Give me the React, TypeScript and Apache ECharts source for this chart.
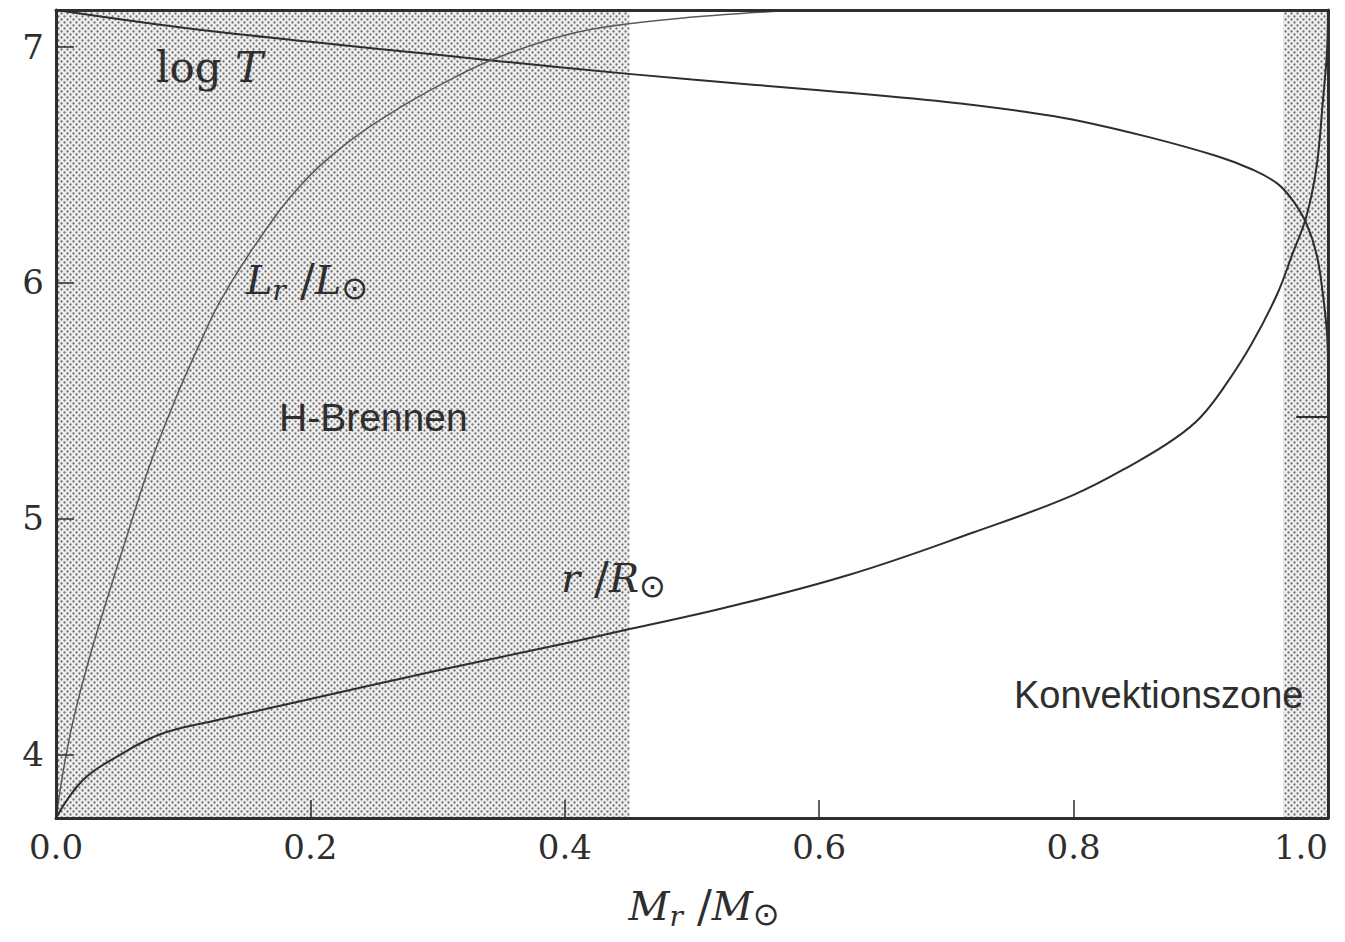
import { useEffect, useRef } from "react";
import * as echarts from "echarts";

// ---- data ----
const massLogT = [0, 0.1, 0.2, 0.3, 0.4, 0.5, 0.6, 0.7, 0.76, 0.8, 0.86, 0.913, 0.94, 0.96, 0.972, 0.983, 0.991, 0.996, 0.999, 1.0];
const logT = [7.155, 7.08, 7.02, 6.965, 6.91, 6.86, 6.815, 6.765, 6.725, 6.69, 6.615, 6.535, 6.48, 6.42, 6.35, 6.25, 6.12, 5.95, 5.8, 5.68];

const massL = [0, 0.008, 0.016, 0.029, 0.042, 0.056, 0.074, 0.095, 0.113, 0.129, 0.158, 0.192, 0.231, 0.27, 0.31, 0.341, 0.388, 0.428, 0.501, 0.553, 0.583];
const lumScaled = [3.73, 4.0, 4.2, 4.46, 4.69, 4.93, 5.23, 5.52, 5.74, 5.92, 6.17, 6.41, 6.6, 6.74, 6.86, 6.94, 7.03, 7.08, 7.125, 7.145, 7.155];

const massR = [0, 0.021, 0.048, 0.082, 0.127, 0.192, 0.3, 0.4, 0.45, 0.525, 0.623, 0.721, 0.8, 0.85, 0.88, 0.9, 0.92, 0.94, 0.96, 0.972, 0.983, 0.991, 0.996, 0.9992, 1.0];
const radiusScaled = [3.73, 3.89, 3.99, 4.085, 4.145, 4.225, 4.355, 4.47, 4.53, 4.62, 4.76, 4.94, 5.1, 5.24, 5.34, 5.43, 5.57, 5.74, 5.95, 6.12, 6.28, 6.49, 6.77, 6.98, 7.155];

const yTickValues = [4, 5, 6, 7];
const hBurningZone = [0, 0.451];
const convectionZone = [0.965, 1.0];
const rightTickMark = [0.975, 1.0, 5.43];

const X_MIN = 0;
const X_MAX = 1;
const X_STEP = 0.2;
const Y_MIN = 3.73;
const Y_MAX = 7.155;

const zip = (xs: number[], ys: number[]) => xs.map((x, i) => [x, ys[i]]);

const dotSvg =
  "<svg xmlns='http://www.w3.org/2000/svg' width='6' height='6'>" +
  "<rect width='6' height='6' fill='#efefef'/>" +
  "<circle cx='1.5' cy='1.5' r='1.15' fill='#707070'/>" +
  "<circle cx='4.5' cy='4.5' r='1.15' fill='#707070'/></svg>";
const dotUrl = "data:image/svg+xml;charset=utf-8," + encodeURIComponent(dotSvg);

const INK = "#2e2e2e";
const SERIF = "DejaVu Serif";
const SANS = "Liberation Sans";

export default function App() {
  const ref = useRef<HTMLDivElement | null>(null);

  useEffect(() => {
    if (!ref.current) return;
    const chart = echarts.init(ref.current, null, { renderer: "svg" });

    const pattern: any = { image: dotUrl, repeat: "repeat", imageWidth: 6, imageHeight: 6 };

    const axisLine = { show: true, onZero: false, lineStyle: { color: INK, width: 3 } };

    const mathRich = {
      it: { fontFamily: SERIF, fontStyle: "italic", fontSize: 40, color: INK, fill: INK, lineHeight: 48, verticalAlign: "middle" },
      sl: { fontFamily: SERIF, fontSize: 44, color: INK, fill: INK, lineHeight: 48, verticalAlign: "middle" },
      sub: { fontFamily: SERIF, fontStyle: "italic", fontSize: 28, color: INK, fill: INK, lineHeight: 26, verticalAlign: "bottom" },
      sun: { fontFamily: "DejaVu Sans", fontSize: 32, color: INK, fill: INK, lineHeight: 30, verticalAlign: "bottom" },
    };

    const curve = (name: string, xs: number[], ys: number[], color: string, width: number, extra: any = {}) => ({
      name,
      type: "line",
      data: zip(xs, ys),
      symbol: "none",
      smooth: 0.4,
      lineStyle: { color, width },
      z: 4,
      ...extra,
    });

    chart.setOption({
      animation: false,
      backgroundColor: "#ffffff",
      grid: { left: 56, right: 17, top: 10, bottom: 124, containLabel: false },
      xAxis: [
        {
          type: "value",
          min: X_MIN,
          max: X_MAX,
          interval: X_STEP,
          position: "bottom",
          z: 10,
          axisLine,
          axisTick: { show: true, inside: true, length: 18, lineStyle: { color: INK, width: 1.5 } },
          axisLabel: {
            formatter: (v: number) => v.toFixed(1),
            fontFamily: SERIF,
            fontSize: 34,
            color: INK,
            margin: 12,
            alignMaxLabel: "right",
          },
          splitLine: { show: false },
          name: "{it|M}{sub|r}{sl| /}{it|M}{sun|⊙}",
          nameLocation: "middle",
          nameGap: 64,
          nameTextStyle: { rich: mathRich, padding: [0, 0, 0, 24] },
        },
        {
          type: "value",
          min: X_MIN,
          max: X_MAX,
          position: "top",
          z: 10,
          axisLine,
          axisTick: { show: false },
          axisLabel: { show: false },
          splitLine: { show: false },
        },
      ],
      yAxis: [
        {
          type: "value",
          min: Y_MIN,
          max: Y_MAX,
          position: "left",
          z: 10,
          axisLine,
          axisTick: { show: true, inside: true, length: 18, customValues: yTickValues, lineStyle: { color: INK, width: 1.5 } },
          axisLabel: { customValues: yTickValues, fontFamily: SERIF, fontSize: 34, color: INK, margin: 12 },
          splitLine: { show: false },
        },
        {
          type: "value",
          min: Y_MIN,
          max: Y_MAX,
          position: "right",
          z: 10,
          axisLine,
          axisTick: { show: false },
          axisLabel: { show: false },
          splitLine: { show: false },
        },
      ],
      series: [
        curve("log T", massLogT, logT, INK, 2, {
          markArea: {
            silent: true,
            itemStyle: { color: pattern },
            data: [
              [{ xAxis: hBurningZone[0] }, { xAxis: hBurningZone[1] }],
              [{ xAxis: convectionZone[0] }, { xAxis: convectionZone[1] }],
            ],
          },
          markLine: {
            silent: true,
            symbol: "none",
            label: { show: false },
            lineStyle: { color: INK, width: 2, type: "solid" },
            data: [[{ coord: [rightTickMark[0], rightTickMark[2]] }, { coord: [rightTickMark[1], rightTickMark[2]] }]],
          },
        }),
        curve("Lr/Lsun", massL, lumScaled, "#5a5a5a", 1.5),
        curve("r/Rsun", massR, radiusScaled, INK, 2),
      ],
      graphic: [
        {
          type: "text",
          left: 156,
          top: 46,
          z: 20,
          style: {
            text: "{up|log }{it|T}",
            rich: {
              up: { fontFamily: SERIF, fontSize: 42, fill: INK },
              it: { fontFamily: SERIF, fontStyle: "italic", fontSize: 42, fill: INK },
            },
          },
        },
        {
          type: "text",
          left: 246,
          top: 258,
          z: 20,
          style: { text: "{it|L}{sub|r}{sl| /}{it|L}{sun|⊙}", rich: mathRich },
        },
        {
          type: "text",
          left: 561,
          top: 556,
          z: 20,
          style: { text: "{it|r}{sl| /}{it|R}{sun|⊙}", rich: mathRich },
        },
        {
          type: "text",
          left: 279,
          top: 398,
          z: 20,
          style: { text: "H-Brennen", fontFamily: SANS, fontSize: 39, fill: INK },
        },
        {
          type: "text",
          left: 1014,
          top: 676,
          z: 20,
          style: { text: "Konvektionszone", fontFamily: SANS, fontSize: 38, fill: INK },
        },
      ],
    });

    return () => chart.dispose();
  }, []);

  return (
    <div
      ref={ref}
      style={{ position: "absolute", left: 0, top: 0, width: 1345, height: 942 }}
    />
  );
}
